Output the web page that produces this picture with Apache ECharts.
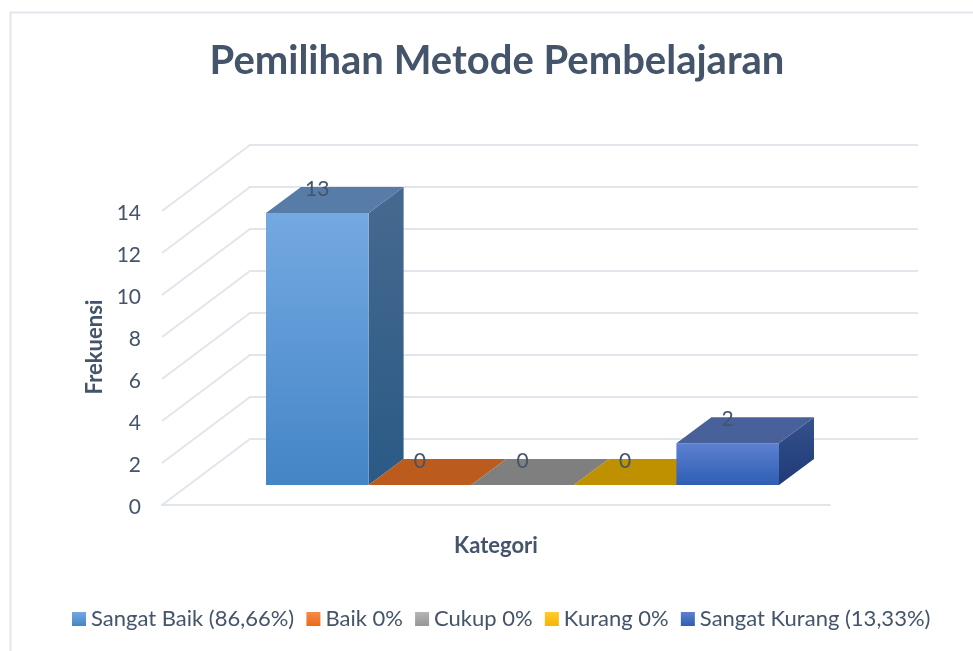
<!DOCTYPE html>
<html><head><meta charset="utf-8">
<style>html,body{margin:0;padding:0;background:#fff}#c{width:973px;height:651px}</style>
<script src="https://cdn.jsdelivr.net/npm/echarts@6/dist/echarts.min.js"></script>
</head><body><div id="c"></div>
<script>
const titleText = 'Pemilihan Metode Pembelajaran';
const categories = ['Sangat Baik (86,66%)','Baik 0%','Cukup 0%','Kurang 0%','Sangat Kurang (13,33%)'];
const values = [13,0,0,0,2];
const ticks = [0,2,4,6,8,10,12,14];
const frontTop = [['#74a9e2','#4485c6'],['#f58b4c','#ea6c15'],['#b5b5b5','#959595'],['#ffcb2e','#f8b500'],['#5d81d0','#2e5eb4']];
const sideCol = [['#47698f','#2a5a86'],['#a84f17','#8f430f'],['#6f6f6f','#5f5f5f'],['#a98000','#8f6c00'],['#35528b','#1f3a78']];
const topCol = ['#577ca7','#bb5c1e','#7f7f7f','#bf9000','#48619a'];
const FONT = 'Lato';
const INK = '#44546a';
const GRID = '#e1e5ec';
const WALL_DX = 88, WALL_DY = -66, DEPTH_DX = 35, DEPTH_DY = -26;

function grad(p){return {type:'linear',x:0,y:0,x2:0,y2:1,colorStops:[{offset:0,color:p[0]},{offset:1,color:p[1]}]};}

function wallItem(params, api){
  const cs = params.coordSys;
  const y = api.coord([0, api.value(1)])[1];
  return {type:'polyline',silent:true,
    shape:{points:[[cs.x,y],[cs.x+WALL_DX,y+WALL_DY],[cs.x+cs.width+WALL_DX,y+WALL_DY]]},
    style:{stroke:GRID,lineWidth:2,fill:null}};
}
function barItem(i){
  return function(params, api){
    const v = api.value(1);
    const b = api.coord([i,0]), t = api.coord([i,v]);
    const w = api.size([1,0])[0];
    const l = b[0]-w/2, r = b[0]+w/2, by = b[1], ty = t[1];
    const dx = DEPTH_DX, dy = DEPTH_DY;
    const kids = [];
    if (v>0){
      kids.push({type:'polygon',shape:{points:[[r,ty],[r+dx,ty+dy],[r+dx,by+dy],[r,by]]},style:{fill:grad(sideCol[i])}});
      kids.push({type:'rect',shape:{x:l,y:ty,width:w,height:by-ty},style:{fill:grad(frontTop[i])}});
    }
    kids.push({type:'polygon',shape:{points:[[l,ty],[l+dx,ty+dy],[r+dx,ty+dy],[r,ty]]},style:{fill:topCol[i]}});
    kids.push({type:'text',z2:100,style:{text:String(v),x:b[0],y:ty+dy+2,align:'center',verticalAlign:'middle',font:'21px '+FONT,fill:INK}});
    return {type:'group',children:kids};
  };
}

const series = [{
  type:'custom',name:'walls',xAxisIndex:0,yAxisIndex:0,z:1,silent:true,clip:false,
  data:ticks.map(t=>[0,t]),renderItem:wallItem,encode:{x:0,y:1}
}];
categories.forEach((name,i)=>{
  series.push({type:'custom',name,xAxisIndex:1,yAxisIndex:1,z:2+i,clip:false,
    itemStyle:{color:grad(frontTop[i])},
    data:[[i,values[i]]],renderItem:barItem(i),encode:{x:0,y:1}});
});

const chart = echarts.init(document.getElementById('c'));
chart.setOption({
  animation:false,
  backgroundColor:'#fff',
  graphic:[{type:'polyline',silent:true,z:0,shape:{points:[[10.5,651],[10.5,12.5],[973,12.5]]},style:{stroke:GRID,lineWidth:2,fill:null}}],
  title:{text:titleText,left:492,top:36,textAlign:'center',textStyle:{fontFamily:FONT,fontSize:40,fontWeight:'bold',color:INK}},
  tooltip:{show:false},
  legend:{data:categories,left:67,top:603,itemWidth:14,itemHeight:14,itemGap:12.2,icon:'rect',
    textStyle:{fontFamily:FONT,fontSize:22,color:INK}},
  grid:[{left:162,width:668,top:211,height:294},{left:266,width:513,top:192,height:293}],
  xAxis:[
    {type:'category',gridIndex:0,data:categories,name:'Kategori',nameLocation:'middle',nameGap:30,
     nameTextStyle:{fontFamily:FONT,fontSize:22,fontWeight:'bold',color:INK},
     axisLine:{lineStyle:{color:GRID,width:2}},axisTick:{show:false},axisLabel:{show:false}},
    {type:'category',gridIndex:1,data:categories,show:false}
  ],
  yAxis:[
    {type:'value',gridIndex:0,min:0,max:14,interval:2,name:'Frekuensi',nameLocation:'middle',nameGap:56,
     nameTextStyle:{fontFamily:FONT,fontSize:22,fontWeight:'bold',color:INK,padding:[0,0,0,22]},
     axisLine:{show:false},axisTick:{show:false},splitLine:{show:false},
     axisLabel:{margin:21,fontFamily:FONT,fontSize:21,color:INK,verticalAlign:'top',lineHeight:5}},
    {type:'value',gridIndex:1,min:0,max:14,interval:2,show:false,splitLine:{show:false}}
  ],
  series
});
</script></body></html>
